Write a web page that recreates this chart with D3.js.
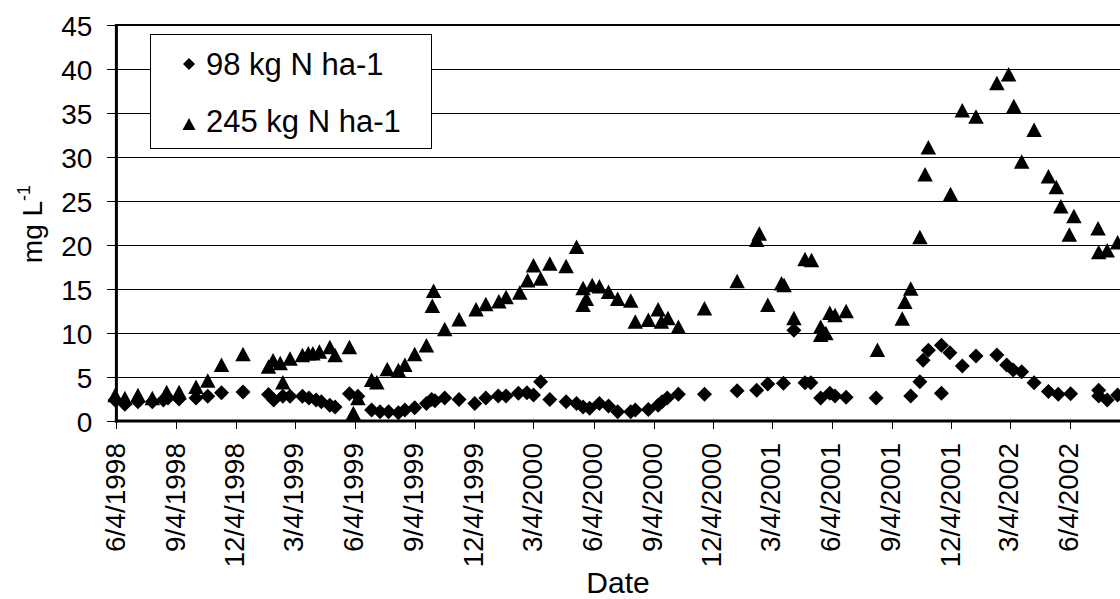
<!DOCTYPE html>
<html>
<head>
<meta charset="utf-8">
<script src="https://cdn.jsdelivr.net/npm/d3@7"></script>
<style>
  body { margin: 0; background: #fff; }
  svg { display: block; }
  text { font-family: "Liberation Sans", Arial, sans-serif; fill: #000; }
</style>
</head>
<body>
<svg id="chart" width="1120" height="599"></svg>
<script>
// Nitrate-N concentration (mg L-1) under two N application rates
const dates98 = [
  "1998-06-02","1998-06-17","1998-07-07","1998-07-29","1998-08-15","1998-08-22","1998-09-08","1998-10-04",
  "1998-10-22","1998-11-12","1998-12-15","1999-01-23","1999-01-31","1999-02-14","1999-02-25","1999-03-16",
  "1999-03-26","1999-04-06","1999-04-14","1999-04-27","1999-05-05","1999-05-27","1999-06-09","1999-06-30",
  "1999-07-13","1999-07-26","1999-08-10","1999-08-20","1999-09-04","1999-09-22","1999-09-30","1999-10-05",
  "1999-10-20","1999-11-11","1999-12-05","1999-12-22","2000-01-10","2000-01-22","2000-02-10","2000-02-23",
  "2000-03-04","2000-03-15","2000-03-29","2000-04-23","2000-05-09","2000-05-19","2000-05-29","2000-06-13",
  "2000-06-27","2000-07-11","2000-07-31","2000-08-07","2000-08-27","2000-09-11","2000-09-17","2000-09-25",
  "2000-10-12","2000-11-21","2001-01-10","2001-02-09","2001-02-26","2001-03-22","2001-04-07","2001-04-24",
  "2001-05-03","2001-05-18","2001-06-01","2001-06-09","2001-06-26","2001-08-11","2001-10-03","2001-10-17",
  "2001-10-22","2001-10-30","2001-11-19","2001-11-19","2001-12-02","2001-12-21","2002-01-11","2002-02-12",
  "2002-02-27","2002-03-09","2002-03-22","2002-04-10","2002-05-02","2002-05-17","2002-06-05","2002-07-18",
  "2002-07-18","2002-07-31","2002-08-16"
];
const values98 = [
  2.4, 1.9, 2.2, 2.2, 2.4, 2.6, 2.5, 2.6,
  2.8, 3.2, 3.3, 3.0, 2.4, 2.8, 2.8, 2.8,
  2.6, 2.4, 2.2, 1.8, 1.6, 3.1, 2.8, 1.25,
  1.05, 1.05, 0.95, 1.25, 1.5, 2.0, 2.45, 2.3,
  2.6, 2.45, 2.0, 2.6, 2.85, 2.85, 3.15, 3.2,
  2.95, 4.45, 2.45, 2.2, 2.0, 1.6, 1.45, 2.0,
  1.7, 1.05, 1.05, 1.25, 1.3, 1.8, 2.2, 2.6,
  3.05, 3.05, 3.45, 3.5, 4.2, 4.3, 10.3, 4.35,
  4.35, 2.6, 3.15, 2.85, 2.7, 2.6, 2.85, 4.45,
  6.9, 8.05, 8.6, 3.15, 7.75, 6.25, 7.4, 7.5,
  6.35, 5.8, 5.6, 4.35, 3.35, 3.05, 3.1, 3.5,
  2.85, 2.4, 2.95
];

const dates245 = [
  "1998-06-02","1998-06-17","1998-07-07","1998-07-29","1998-08-20","1998-09-08","1998-10-04","1998-10-22",
  "1998-11-12","1998-12-15","1999-01-23","1999-01-30","1999-02-10","1999-02-14","1999-02-25","1999-03-16",
  "1999-03-25","1999-04-01","1999-04-11","1999-04-27","1999-05-05","1999-05-27","1999-06-02","1999-06-09",
  "1999-06-30","1999-07-08","1999-07-24","1999-08-10","1999-08-20","1999-09-04","1999-09-22","1999-10-01",
  "1999-10-03","1999-10-20","1999-11-11","1999-12-07","1999-12-22","2000-01-11","2000-01-22","2000-02-12",
  "2000-02-24","2000-03-04","2000-03-15","2000-03-29","2000-04-23","2000-05-09","2000-05-19","2000-05-19",
  "2000-05-24","2000-06-02","2000-06-13","2000-06-27","2000-07-11","2000-07-31","2000-08-07","2000-08-27",
  "2000-09-11","2000-09-16","2000-09-26","2000-10-12","2000-11-21","2001-01-10","2001-02-09","2001-02-13",
  "2001-02-26","2001-03-19","2001-03-23","2001-04-07","2001-04-24","2001-05-04","2001-05-18","2001-05-18",
  "2001-05-26","2001-06-01","2001-06-09","2001-06-26","2001-08-13","2001-09-20","2001-09-24","2001-10-03",
  "2001-10-17","2001-10-25","2001-10-30","2001-12-03","2001-12-21","2002-01-11","2002-02-12","2002-03-02",
  "2002-03-10","2002-03-22","2002-04-10","2002-05-02","2002-05-14","2002-05-21","2002-06-03","2002-06-10",
  "2002-07-17","2002-07-18","2002-07-31","2002-08-16"
];
const values245 = [
  2.95, 2.6, 2.95, 2.6, 3.3, 3.3, 3.9, 4.6,
  6.4, 7.6, 6.2, 6.9, 6.6, 4.4, 7.1, 7.5,
  7.7, 7.7, 7.9, 8.4, 7.5, 8.4, 0.9, 2.6,
  4.7, 4.4, 5.9, 5.8, 6.4, 7.6, 8.6, 13.1,
  14.8, 10.45, 11.55, 12.7, 13.3, 13.6, 14.1, 14.6,
  16.0, 17.7, 16.2, 17.9, 17.6, 19.8, 15.1, 13.2,
  13.9, 15.45, 15.3, 14.7, 13.9, 13.7, 11.3, 11.5,
  12.7, 11.3, 11.7, 10.7, 12.8, 15.9, 20.6, 21.3,
  13.2, 15.65, 15.45, 11.7, 18.4, 18.3, 10.7, 9.8,
  10.0, 12.3, 12.05, 12.5, 8.1, 11.65, 13.55, 15.05,
  20.9, 28.05, 31.1, 25.8, 35.3, 34.6, 38.4, 39.4,
  35.8, 29.5, 33.1, 27.8, 26.6, 24.4, 21.2, 23.3,
  21.9, 19.2, 19.4, 20.3
];

const seriesNames = ["98 kg N ha-1", "245 kg N ha-1"];
const xTickLabels = [
  "6/4/1998","9/4/1998","12/4/1998","3/4/1999","6/4/1999","9/4/1999","12/4/1999","3/4/2000",
  "6/4/2000","9/4/2000","12/4/2000","3/4/2001","6/4/2001","9/4/2001","12/4/2001","3/4/2002","6/4/2002"
];
const yTickValues = [0, 5, 10, 15, 20, 25, 30, 35, 40, 45];
const xDomain = ["1998-06-04", "2002-08-21"];

const parseDate = d3.timeParse("%Y-%m-%d");
const parseTick = d3.timeParse("%m/%d/%Y");

const svg = d3.select("#chart");
const plotLeft = 116.4, plotRight = 1120.9, plotTop = 25, plotBottom = 421;

const x = d3.scaleTime().domain(xDomain.map(parseDate)).range([plotLeft, plotRight]);
const y = d3.scaleLinear().domain([0, 45]).range([plotBottom, plotTop]);

// horizontal gridlines
svg.append("g")
  .selectAll("line")
  .data(yTickValues.filter(v => v > 0 && v < 45))
  .join("line")
  .attr("x1", plotLeft).attr("x2", 1120)
  .attr("y1", d => y(d)).attr("y2", d => y(d))
  .attr("stroke", "#000").attr("stroke-width", 1)
  .attr("shape-rendering", "crispEdges");

// y axis
const yAxis = svg.append("g")
  .attr("transform", `translate(${plotLeft},0)`)
  .call(d3.axisLeft(y).tickValues(yTickValues).tickSize(9).tickSizeOuter(0).tickPadding(15));
yAxis.select(".domain").remove();
yAxis.selectAll(".tick line").attr("stroke", "#000").attr("shape-rendering", "crispEdges");
yAxis.selectAll(".tick text")
  .style("font-family", '"Liberation Sans", Arial, sans-serif')
  .style("font-size", "28px").attr("dy", "0.36em");

// x axis
const tickDates = xTickLabels.map(parseTick);
const xAxis = svg.append("g")
  .attr("transform", `translate(0,${plotBottom})`)
  .call(d3.axisBottom(x).tickValues(tickDates).tickSize(8).tickSizeOuter(0)
        .tickFormat((d, i) => xTickLabels[i]));
xAxis.select(".domain").remove();
xAxis.selectAll(".tick line").attr("stroke", "#000").attr("shape-rendering", "crispEdges");
xAxis.selectAll(".tick text")
  .style("font-family", '"Liberation Sans", Arial, sans-serif')
  .style("font-size", "28px")
  .attr("text-anchor", "end")
  .attr("dy", null)
  .attr("y", null)
  .attr("transform", "translate(8,22) rotate(-90)");

// plot frame: left axis, baseline, top edge
svg.append("line").attr("x1", plotLeft).attr("x2", plotLeft).attr("y1", plotTop - 1).attr("y2", plotBottom + 1.5)
  .attr("stroke", "#000").attr("stroke-width", 3);
svg.append("line").attr("x1", plotLeft - 1.5).attr("x2", 1120).attr("y1", plotBottom).attr("y2", plotBottom)
  .attr("stroke", "#000").attr("stroke-width", 3);
svg.append("line").attr("x1", plotLeft).attr("x2", 1120).attr("y1", plotTop).attr("y2", plotTop)
  .attr("stroke", "#000").attr("stroke-width", 2);

// marker shapes
const diamond = r => `M0,${-r}L${r},0L0,${r}L${-r},0Z`;
const triangle = (w, h) => `M0,${-h / 2}L${w / 2},${h / 2}L${-w / 2},${h / 2}Z`;

const s98 = dates98.map((d, i) => ({ date: parseDate(d), value: values98[i] }));
const s245 = dates245.map((d, i) => ({ date: parseDate(d), value: values245[i] }));

svg.append("g").selectAll("path")
  .data(s98).join("path")
  .attr("d", diamond(7.5))
  .attr("transform", d => `translate(${x(d.date)},${y(d.value)})`)
  .attr("fill", "#000");

svg.append("g").selectAll("path")
  .data(s245).join("path")
  .attr("d", triangle(15.5, 14.5))
  .attr("transform", d => `translate(${x(d.date)},${y(d.value)})`)
  .attr("fill", "#000");

// legend
const lg = svg.append("g");
lg.append("rect").attr("x", 150.5).attr("y", 34.5).attr("width", 281).attr("height", 114)
  .attr("fill", "#fff").attr("stroke", "#000").attr("stroke-width", 1);
lg.append("path").attr("d", diamond(6)).attr("transform", "translate(189,64)").attr("fill", "#000");
lg.append("path").attr("d", triangle(13, 12)).attr("transform", "translate(189,124)").attr("fill", "#000");
lg.append("text").attr("x", 206).attr("y", 75).style("font-size", "31px").text(seriesNames[0]);
lg.append("text").attr("x", 206).attr("y", 132).style("font-size", "31px").text(seriesNames[1]);

// axis titles
const yt = svg.append("text")
  .attr("transform", "translate(42,224) rotate(-90)")
  .attr("text-anchor", "middle")
  .style("font-size", "28px");
yt.append("tspan").text("mg L");
yt.append("tspan").attr("dy", -12).style("font-size", "18px").text("-1");

svg.append("text")
  .attr("x", 618).attr("y", 593)
  .attr("text-anchor", "middle")
  .style("font-size", "30px")
  .text("Date");
</script>
</body>
</html>
